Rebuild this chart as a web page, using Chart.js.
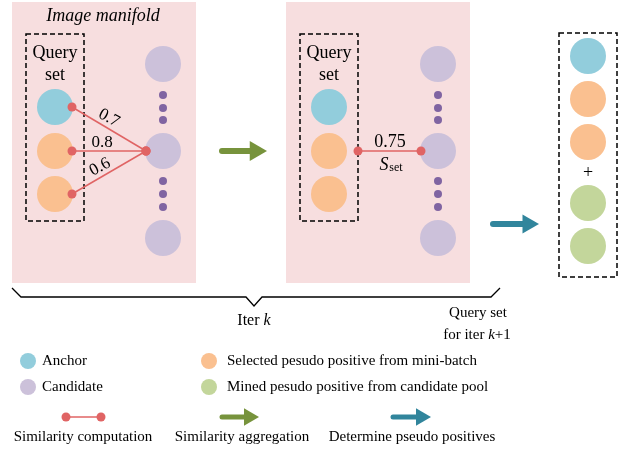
<!DOCTYPE html>
<html>
<head>
<meta charset="utf-8">
<script src="https://cdn.jsdelivr.net/npm/chart.js@4.4.1/dist/chart.umd.min.js"></script>
<style>
  html, body { margin: 0; padding: 0; background: #fff; }
  canvas { display: block; }
</style>
</head>
<body>
<canvas id="c" width="644" height="451"></canvas>
<script>
// diagram "data" - everything lives in a 644 x 451 value space
var queryX = [55, 329];
var queryY = [107, 151, 194];
var queryColors = ['#92cddc', '#fac090', '#fac090'];
var candX = [163, 438];
var candY = [64, 151, 238];
var dotY = [95, 108, 120, 181, 194, 207];
var nextX = 588;
var nextY = [56, 99, 142, 203, 246];
var nextColors = ['#92cddc', '#fac090', '#fac090', '#c3d69b', '#c3d69b'];
var simLabels = ['0.7', '0.8', '0.6'];
var setLabel = '0.75';
var panels = [[12, 2, 196, 283], [286, 2, 470, 283]];
var queryBoxes = [[26, 34, 84, 221], [300, 34, 358, 221], [559, 33, 617, 277]];
var legendCircles = [
    { x: 28, y: 361, color: '#92cddc', text: 'Anchor' },
    { x: 28, y: 387, color: '#ccc1da', text: 'Candidate' },
    { x: 209, y: 361, color: '#fac090', text: 'Selected pesudo positive from mini-batch' },
    { x: 209, y: 387, color: '#c3d69b', text: 'Mined pesudo positive from candidate pool' }
];
var legendLabels = ['Similarity computation', 'Similarity aggregation', 'Determine pseudo positives'];

var RED = '#e06464';
var GREEN = '#77933c';
var TEAL = '#31859c';
var FONT = '"Liberation Serif", "Times New Roman", serif';

function circles(xs, ys, colors, r) {
    var pts = [];
    for (var i = 0; i < ys.length; i++) {
        pts.push({ x: Array.isArray(xs) ? xs[i] : xs, y: ys[i] });
    }
    return {
        data: pts,
        showLine: false,
        pointRadius: r,
        pointBorderWidth: 0,
        pointBackgroundColor: colors,
        order: 3
    };
}

function redLine(x1, y1, x2, y2, w) {
    return {
        data: [{ x: x1, y: y1 }, { x: x2, y: y2 }],
        showLine: true,
        borderColor: RED,
        borderWidth: w || 1.5,
        pointRadius: 4.5,
        pointBorderWidth: 0,
        pointBackgroundColor: RED,
        order: 1
    };
}

function arrow(x1, x2, y, head, width, color) {
    return {
        data: [{ x: x1, y: y }, { x: x2, y: y }],
        showLine: true,
        borderColor: color,
        borderWidth: width,
        borderCapStyle: 'round',
        pointStyle: 'triangle',
        rotation: 90,
        pointRadius: [0, head],
        pointBorderWidth: 0,
        pointBackgroundColor: color,
        order: 1
    };
}

var datasets = [];
for (var p = 0; p < 2; p++) {
    datasets.push(circles(queryX[p], queryY, queryColors, 18));
    datasets.push(circles(candX[p], candY, '#ccc1da', 18));
    datasets.push(circles(candX[p], dotY, '#8064a2', 4));
}
datasets.push(circles(nextX, nextY, nextColors, 18));
for (var i = 0; i < queryY.length; i++) {
    datasets.push(redLine(72, queryY[i], 146, candY[1]));
}
datasets.push(redLine(358, 151, 421, 151));
datasets.push(arrow(222, 255.5, 151, 11.5, 6, GREEN));
datasets.push(arrow(493, 528, 224, 11, 6, TEAL));
// legend marks
datasets.push(circles(legendCircles.map(function (d) { return d.x; }),
    legendCircles.map(function (d) { return d.y; }),
    legendCircles.map(function (d) { return d.color; }), 8));
datasets.push(redLine(66, 417, 101, 417, 1.5));
datasets.push(arrow(222, 249, 417, 10, 5, GREEN));
datasets.push(arrow(393, 421, 417, 10, 5, TEAL));

function px(chart, x, y) {
    return [chart.scales.x.getPixelForValue(x), chart.scales.y.getPixelForValue(y)];
}

function text(ctx, chart, s, x, y, opt) {
    opt = opt || {};
    var p = px(chart, x, y);
    ctx.save();
    ctx.font = (opt.style || '') + ' ' + (opt.size || 15) + 'px ' + FONT;
    ctx.fillStyle = '#000';
    ctx.textAlign = opt.align || 'center';
    ctx.textBaseline = 'middle';
    ctx.translate(p[0], p[1]);
    if (opt.rot) ctx.rotate(opt.rot * Math.PI / 180);
    ctx.fillText(s, 0, 0);
    ctx.restore();
}

// pieces of text with mixed italic, centred as a whole
function runs(ctx, chart, parts, x, y, size) {
    var p = px(chart, x, y);
    ctx.save();
    ctx.textBaseline = 'middle';
    ctx.fillStyle = '#000';
    var total = 0;
    parts.forEach(function (r) {
        ctx.font = (r[1] ? 'italic ' : '') + size + 'px ' + FONT;
        r.w = ctx.measureText(r[0]).width;
        total += r.w;
    });
    var cx = p[0] - total / 2;
    parts.forEach(function (r) {
        ctx.font = (r[1] ? 'italic ' : '') + size + 'px ' + FONT;
        ctx.textAlign = 'left';
        ctx.fillText(r[0], cx, p[1]);
        cx += r.w;
    });
    ctx.restore();
}

var diagram = {
    id: 'diagram',
    beforeDatasetsDraw: function (chart) {
        var ctx = chart.ctx;
        ctx.save();
        ctx.fillStyle = '#f7dedf';
        panels.forEach(function (r) {
            var a = px(chart, r[0], r[1]), b = px(chart, r[2], r[3]);
            ctx.fillRect(a[0], a[1], b[0] - a[0], b[1] - a[1]);
        });
        ctx.strokeStyle = '#000';
        ctx.lineWidth = 1.5;
        ctx.setLineDash([5, 3]);
        queryBoxes.forEach(function (r) {
            var a = px(chart, r[0], r[1]), b = px(chart, r[2], r[3]);
            ctx.strokeRect(a[0], a[1], b[0] - a[0], b[1] - a[1]);
        });
        ctx.setLineDash([]);
        // brace under the two panels
        var brace = [[12, 288], [21, 297], [246, 297], [254, 306], [262, 297], [491, 297], [500, 288]];
        ctx.beginPath();
        brace.forEach(function (q, k) {
            var s = px(chart, q[0], q[1]);
            if (k === 0) ctx.moveTo(s[0], s[1]); else ctx.lineTo(s[0], s[1]);
        });
        ctx.lineWidth = 1.3;
        ctx.stroke();
        ctx.restore();
    },
    afterDatasetsDraw: function (chart) {
        var ctx = chart.ctx;
        text(ctx, chart, 'Image manifold', 103, 16, { style: 'italic', size: 18 });
        queryX.forEach(function (x) {
            text(ctx, chart, 'Query', x, 53, { size: 18 });
            text(ctx, chart, 'set', x, 75, { size: 18 });
        });
        text(ctx, chart, simLabels[0], 109, 118, { rot: 28, size: 17 });
        text(ctx, chart, simLabels[1], 102, 143, { size: 17 });
        text(ctx, chart, simLabels[2], 100, 167, { rot: -28, size: 17 });
        text(ctx, chart, setLabel, 390, 142, { size: 18 });
        text(ctx, chart, 'S', 384, 165, { style: 'italic', size: 18 });
        text(ctx, chart, 'set', 396, 168, { size: 12 });
        text(ctx, chart, '+', nextX, 173, { size: 18 });
        runs(ctx, chart, [['Iter ', false], ['k', true]], 254, 321, 16);
        text(ctx, chart, 'Query set', 478, 313, { size: 15 });
        runs(ctx, chart, [['for iter ', false], ['k', true], ['+1', false]], 477, 335, 15);
        legendCircles.forEach(function (d) {
            text(ctx, chart, d.text, d.x + (d.x < 100 ? 14 : 18), d.y, { align: 'left', size: 15 });
        });
        text(ctx, chart, legendLabels[0], 83, 437, { size: 15 });
        text(ctx, chart, legendLabels[1], 242, 437, { size: 15 });
        text(ctx, chart, legendLabels[2], 412, 437, { size: 15 });
    }
};

new Chart(document.getElementById('c').getContext('2d'), {
    type: 'scatter',
    data: { datasets: datasets },
    options: {
        responsive: false,
        animation: false,
        events: [],
        layout: { padding: 0, autoPadding: false },
        scales: {
            x: { type: 'linear', min: 0, max: 644, display: false },
            y: { type: 'linear', min: 0, max: 451, reverse: true, display: false }
        },
        plugins: { legend: { display: false }, tooltip: { enabled: false } }
    },
    plugins: [diagram]
});
</script>
</body>
</html>
